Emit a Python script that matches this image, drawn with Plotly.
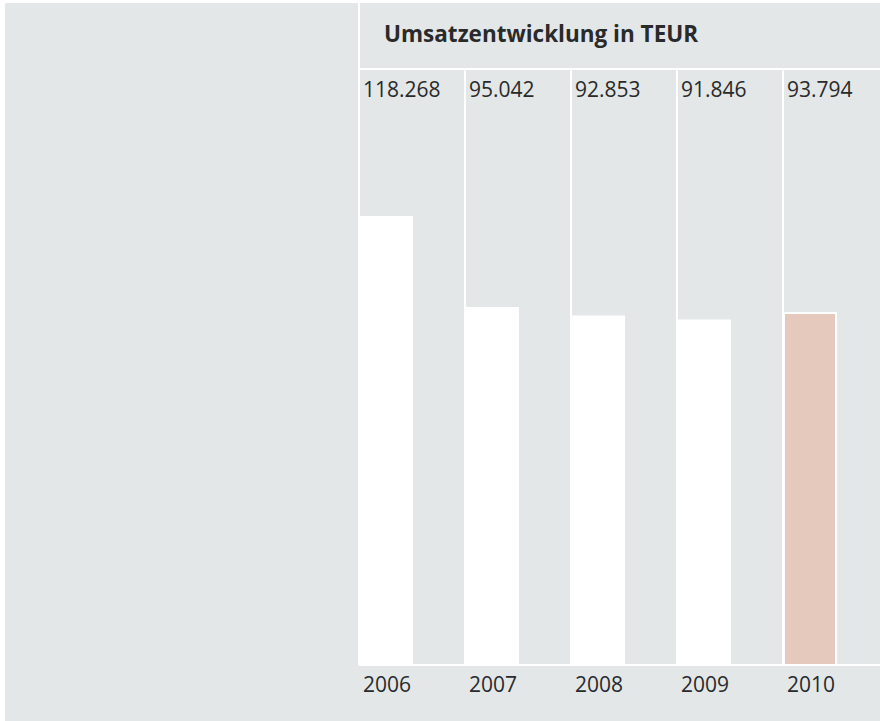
import plotly.graph_objects as go

years = ["2006", "2007", "2008", "2009", "2010"]
umsatz = [118268, 95042, 92853, 91846, 93794]
value_labels = ["118.268", "95.042", "92.853", "91.846", "93.794"]
title_text = "Umsatzentwicklung in TEUR"

W, H = 880, 721
L, T, B = 359, 69, 665           # plot area edges in px
PW, PH = W - L, B - T
COL = 106                          # column width in px

BG = "#e3e7e8"
HL = "#e6c9bd"
TXT = "#2a2a2a"
FONT = "Open Sans"

def px_x(p):
    return (p - L) / PW

def px_y(p):
    return (B - p) / PH

xs = list(range(len(years)))
colors = ["white"] * (len(years) - 1) + [HL]

fig = go.Figure()
fig.add_trace(go.Bar(
    x=xs, y=umsatz,
    offset=1 / COL, width=52 / COL,
    marker=dict(color=colors, line=dict(color="white", width=2)),
    hoverinfo="skip",
))

annotations = []
for i, (yr, lab) in enumerate(zip(years, value_labels)):
    annotations.append(dict(
        x=i, xref="x", y=px_y(89.5), yref="paper",
        text=lab, showarrow=False, xanchor="left", yanchor="middle",
        xshift=2, font=dict(family=FONT, size=21, color=TXT),
    ))
    annotations.append(dict(
        x=i, xref="x", y=px_y(683.5), yref="paper",
        text=yr, showarrow=False, xanchor="left", yanchor="middle",
        xshift=2, font=dict(family=FONT, size=21, color=TXT),
    ))
annotations.append(dict(
    x=px_x(382), xref="paper", y=px_y(33.7), yref="paper",
    text="<b>" + title_text + "</b>", showarrow=False,
    xanchor="left", yanchor="middle",
    font=dict(family=FONT, size=22.5, color=TXT),
))

shapes = [
    # white outer strips
    dict(type="rect", xref="paper", yref="paper",
         x0=px_x(-2), x1=px_x(5), y0=px_y(730), y1=px_y(-5),
         fillcolor="white", line=dict(width=0)),
    dict(type="rect", xref="paper", yref="paper",
         x0=px_x(-2), x1=px_x(890), y0=px_y(3), y1=px_y(-5),
         fillcolor="white", line=dict(width=0)),
    # left vertical divider, full height
    dict(type="line", xref="paper", yref="paper",
         x0=0, x1=0, y0=px_y(665), y1=px_y(3),
         line=dict(color="white", width=2)),
    # header divider
    dict(type="line", xref="paper", yref="paper",
         x0=0, x1=1, y0=1, y1=1, line=dict(color="white", width=2)),
    # baseline
    dict(type="line", xref="paper", yref="paper",
         x0=0, x1=1, y0=0, y1=0, line=dict(color="white", width=2)),
]

fig.update_layout(
    width=W, height=H,
    margin=dict(l=L, r=0, t=T, b=H - B, pad=0),
    paper_bgcolor=BG, plot_bgcolor=BG,
    showlegend=False,
    annotations=annotations,
    shapes=shapes,
    xaxis=dict(range=[0, PW / COL], showgrid=True, dtick=1, tick0=0,
               gridcolor="white", gridwidth=2, showticklabels=False,
               zeroline=False, showline=False, ticks="", fixedrange=True),
    yaxis=dict(range=[3930, 156050], showgrid=False, showticklabels=False,
               zeroline=False, showline=False, ticks="", fixedrange=True),
)

fig.write_html(
    "out.html",
    config={"displayModeBar": False},
    post_script="document.body.style.margin='0';document.body.style.overflow='hidden';",
)
